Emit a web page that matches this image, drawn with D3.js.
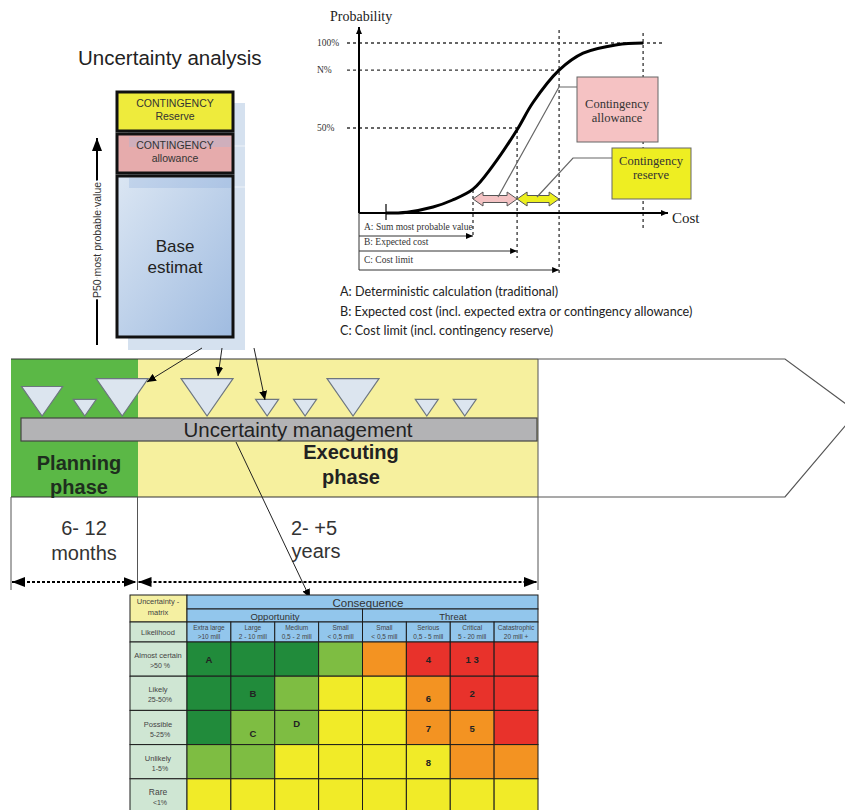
<!DOCTYPE html>
<html>
<head>
<meta charset="utf-8">
<script src="https://cdn.jsdelivr.net/npm/d3@7"></script>
<style>
body { margin: 0; background: #fff; }
svg { display: block; }
</style>
</head>
<body>
<div id="wrapper"></div>
<script>
// cumulative cost curve (cost 0-100, probability %)
const curveCost = [9, 16, 24.7, 31, 38, 44.7, 52.7, 58, 66.7, 74.7, 86, 95];
const curveProb = [0, 0.5, 3.5, 7.5, 14, 28, 49, 65, 84, 94, 99, 100];
const probTickValues = [100, 84, 50];
const probTickLabels = ["100%", "N%", "50%"];
const levelCost = [38, 52.7, 66.7];
const levelLabels = ["A: Sum most probable value", "B: Expected cost", "C: Cost limit"];
const notes = [
    "A: Deterministic calculation (traditional)",
    "B: Expected cost (incl. expected extra or contingency allowance)",
    "C: Cost limit (incl. contingency reserve)"
];

// uncertainty triangles along the project timeline (0-100 = start..end of executing)
const triPos = [5.9, 14.0, 21.1, 37.2, 48.6, 55.8, 64.9, 78.9, 86.1];
const triSize = [2, 1, 3, 3, 1, 1, 3, 1, 1];

// uncertainty matrix
const matrixRows = [["Almost certain", ">50 %"], ["Likely", "25-50%"], ["Possible", "5-25%"], ["Unlikely", "1-5%"], ["Rare", "<1%"]];
const matrixCols = [["Extra large", ">10 mill"], ["Large", "2 - 10 mill"], ["Medium", "0,5 - 2 mill"], ["Small", "< 0,5 mill"],
                    ["Small", "< 0,5 mill"], ["Serious", "0,5 - 5 mill"], ["Critical", "5 - 20 mill"], ["Catastrophic", "20 mill +"]];
const matrixLevels = [
    "GGGgORRR",
    "GGgYYORR",
    "GggYYOOR",
    "ggYYYYOO",
    "YYYYYYYY"
];
const matrixMarks = [
    {r: 0, c: 0, t: "A"}, {r: 0, c: 5, t: "4"}, {r: 0, c: 6, t: "1 3"},
    {r: 1, c: 1, t: "B"}, {r: 1, c: 5, t: "6"}, {r: 1, c: 6, t: "2"},
    {r: 2, c: 1, t: "C"}, {r: 2, c: 2, t: "D"}, {r: 2, c: 5, t: "7"}, {r: 2, c: 6, t: "5"},
    {r: 3, c: 5, t: "8"}
];
const levelColor = {G: "#218b3b", g: "#7ebd42", Y: "#f1eb28", O: "#f39322", R: "#e8322b"};

const svg = d3.select("#wrapper")
    .append("svg")
    .attr("width", 845)
    .attr("height", 810);

const defs = svg.append("defs");
function marker(id, len, half) {
    defs.append("marker")
        .attr("id", id)
        .attr("viewBox", `0 ${-half} ${len} ${half*2}`)
        .attr("refX", len).attr("refY", 0)
        .attr("markerUnits", "userSpaceOnUse")
        .attr("markerWidth", len).attr("markerHeight", half*2)
        .attr("orient", "auto-start-reverse")
        .append("path")
        .attr("d", `M0,${-half}L${len},0L0,${half}Z`)
        .attr("fill", "#000");
}
marker("head", 9, 4);
marker("small", 7, 3);
marker("big", 13, 5);

const grad = defs.append("linearGradient").attr("id", "base")
    .attr("x1", "0").attr("y1", "0").attr("x2", "1").attr("y2", "1");
grad.append("stop").attr("offset", "0").attr("stop-color", "#dbe6f3");
grad.append("stop").attr("offset", "1").attr("stop-color", "#9fbbe0");

// ---------- uncertainty analysis stack ----------
svg.append("text")
    .attr("x", 78).attr("y", 65)
    .style("font", "20.5px 'Liberation Sans', Arial")
    .style("fill", "#222")
    .text("Uncertainty analysis");

svg.append("rect").attr("x", 128).attr("y", 103).attr("width", 117).attr("height", 247).attr("fill", "#d5e1ef");
svg.append("line").attr("x1", 233).attr("x2", 245).attr("y1", 146).attr("y2", 146).attr("stroke", "#eef3f9");
svg.append("line").attr("x1", 233).attr("x2", 245).attr("y1", 187).attr("y2", 187).attr("stroke", "#eef3f9");

const stack = [
    {y: 92, h: 39, fill: "#eeeb3c", lines: ["CONTINGENCY", "Reserve"]},
    {y: 134, h: 39, fill: "#e6abac", lines: ["CONTINGENCY", "allowance"]},
    {y: 176, h: 161, fill: "url(#base)", lines: []}
];
svg.selectAll("rect.stack")
    .data(stack)
    .enter()
    .append("rect")
    .attr("class", "stack")
    .attr("x", 117).attr("y", d => d.y)
    .attr("width", 116).attr("height", d => d.h)
    .attr("fill", d => d.fill)
    .attr("stroke", "#111").attr("stroke-width", 3);
svg.append("rect").attr("x", 129).attr("y", 137).attr("width", 102).attr("height", 10).attr("fill", "#9db9e0").attr("opacity", 0.3);
svg.append("rect").attr("x", 129).attr("y", 178).attr("width", 102).attr("height", 10).attr("fill", "#7fa3d6").attr("opacity", 0.25);
stack.forEach(d => {
    d.lines.forEach((t, i) => {
        svg.append("text")
            .attr("x", 175).attr("y", d.y + 15 + i * 13)
            .attr("text-anchor", "middle")
            .style("font", "10.5px 'Liberation Sans', Arial")
            .style("fill", "#333")
            .text(t);
    });
});
["Base", "estimat"].forEach((t, i) => {
    svg.append("text")
        .attr("x", 175).attr("y", 252 + i * 21)
        .attr("text-anchor", "middle")
        .style("font", "17px 'Liberation Sans', Arial")
        .style("fill", "#222")
        .text(t);
});

svg.append("line").attr("x1", 97).attr("x2", 97).attr("y1", 345).attr("y2", 138)
    .attr("stroke", "#000").attr("stroke-width", 2).attr("marker-end", "url(#big)");
svg.append("text")
    .attr("transform", "translate(101,240) rotate(-90)")
    .attr("text-anchor", "middle")
    .style("font", "10.5px 'Liberation Sans', Arial")
    .style("fill", "#333")
    .attr("stroke", "#fff").attr("stroke-width", 4).attr("paint-order", "stroke")
    .text("P50 most probable value");

// ---------- probability chart ----------
const x = d3.scaleLinear().domain([0, 100]).range([359, 659]);
const y = d3.scaleLinear().domain([0, 100]).range([213, 43]);
const serif = "'Liberation Serif', 'Times New Roman', serif";
const dash = g => g.attr("stroke", "#333").attr("stroke-width", 1.3).attr("stroke-dasharray", "3,3");

svg.append("line").attr("x1", 347).attr("x2", x(100) + 4).attr("y1", y(100)).attr("y2", y(100)).call(dash);
svg.append("line").attr("x1", 347).attr("x2", x(levelCost[2])).attr("y1", y(84)).attr("y2", y(84)).call(dash);
svg.append("line").attr("x1", 347).attr("x2", x(levelCost[1])).attr("y1", y(50)).attr("y2", y(50)).call(dash);

svg.selectAll("text.ptick")
    .data(probTickValues)
    .enter()
    .append("text")
    .attr("class", "ptick")
    .attr("x", 317).attr("y", d => y(d) + 3)
    .style("font", "9.5px " + serif)
    .style("fill", "#333")
    .text((d, i) => probTickLabels[i]);

const vDash = [
    {c: levelCost[0], y0: 190, y1: 238},
    {c: levelCost[1], y0: 130, y1: 258},
    {c: levelCost[2], y0: 30, y1: 274},
    {c: 94.7, y0: 33, y1: 230}
];
svg.selectAll("line.vdash")
    .data(vDash)
    .enter()
    .append("line")
    .attr("class", "vdash")
    .attr("x1", d => x(d.c)).attr("x2", d => x(d.c))
    .attr("y1", d => d.y0).attr("y2", d => d.y1)
    .call(dash);

const curve = curveCost.map((c, i) => [c, curveProb[i]]);
svg.append("path")
    .datum(curve)
    .attr("d", d3.line().x(d => x(Math.min(d[0], 94.7))).y(d => y(d[1])).curve(d3.curveCatmullRom.alpha(0.5)))
    .attr("fill", "none").attr("stroke", "#000").attr("stroke-width", 3);

svg.append("line").attr("x1", x(0)).attr("x2", x(0)).attr("y1", y(0)).attr("y2", 27)
    .attr("stroke", "#000").attr("stroke-width", 2).attr("marker-end", "url(#small)");
svg.append("line").attr("x1", x(0)).attr("x2", 668).attr("y1", y(0)).attr("y2", y(0))
    .attr("stroke", "#000").attr("stroke-width", 2).attr("marker-end", "url(#small)");
svg.append("line").attr("x1", x(curveCost[0])).attr("x2", x(curveCost[0])).attr("y1", 204).attr("y2", 220)
    .attr("stroke", "#000").attr("stroke-width", 1.2);

svg.append("text").attr("x", 330).attr("y", 21).style("font", "14px " + serif).style("fill", "#222").text("Probability");
svg.append("text").attr("x", 672).attr("y", 223).style("font", "15px " + serif).style("fill", "#222").text("Cost");

// A / B / C bracket arrows
svg.append("line").attr("x1", x(0)).attr("x2", x(0)).attr("y1", y(0)).attr("y2", 270).attr("stroke", "#333");
levelCost.forEach((c, i) => {
    const yy = [236, 251, 270][i];
    svg.append("text")
        .attr("x", 364).attr("y", yy - 6 + (i == 2 ? -1 : 0))
        .style("font", "9.5px " + serif).style("fill", "#333")
        .text(levelLabels[i]);
    svg.append("line").attr("x1", x(0)).attr("x2", x(c)).attr("y1", yy).attr("y2", yy)
        .attr("stroke", "#333").attr("stroke-width", 1).attr("marker-end", "url(#small)");
});

// contingency double arrows
function doubleArrow(x0, x1, yc) {
    const h = 10;
    return `M${x0},${yc}L${x0+h},${yc-7}L${x0+h},${yc-3.5}L${x1-h},${yc-3.5}L${x1-h},${yc-7}L${x1},${yc}` +
           `L${x1-h},${yc+7}L${x1-h},${yc+3.5}L${x0+h},${yc+3.5}L${x0+h},${yc+7}Z`;
}
svg.append("path").attr("d", doubleArrow(x(levelCost[0]), x(levelCost[1]), 199)).attr("fill", "#f4c3c4").attr("stroke", "#555");
svg.append("path").attr("d", doubleArrow(x(levelCost[1]), x(levelCost[2]), 199)).attr("fill", "#ecef1e").attr("stroke", "#555");

svg.append("path").attr("d", "M577,87L559,87L498,197").attr("fill", "none").attr("stroke", "#666").attr("stroke-width", 1.2);
svg.append("path").attr("d", "M612,158L573,158L537,197").attr("fill", "none").attr("stroke", "#666").attr("stroke-width", 1.2);

svg.append("rect").attr("x", 577).attr("y", 77).attr("width", 81).attr("height", 65).attr("fill", "#f5c2c3").attr("stroke", "#666");
svg.append("rect").attr("x", 612).attr("y", 148).attr("width", 79).attr("height", 51).attr("fill", "#eeee22").attr("stroke", "#666");
[["Contingency", 617, 108], ["allowance", 617, 122], ["Contingency", 651, 165], ["reserve", 651, 179]].forEach(d => {
    svg.append("text").attr("x", d[1]).attr("y", d[2]).attr("text-anchor", "middle")
        .style("font", "12.5px " + serif).style("fill", "#333").text(d[0]);
});

svg.selectAll("text.note")
    .data(notes)
    .enter()
    .append("text")
    .attr("class", "note")
    .attr("x", 340).attr("y", (d, i) => 296 + i * 19.5)
    .style("font", "12.6px Lato, 'Open Sans', sans-serif")
    .style("fill", "#222")
    .text(d => d);

// ---------- project phases band ----------
const t = d3.scaleLinear().domain([0, 100]).range([11, 538]);
const triW = d3.scaleLinear().domain([1, 2, 3]).range([23, 41, 52]);

svg.append("path").attr("d", "M538,359L785,359L857,412L785,497L538,497")
    .attr("fill", "#fff").attr("stroke", "#555").attr("stroke-width", 1.2);
svg.append("rect").attr("x", t(0)).attr("y", 359).attr("width", 127).attr("height", 138).attr("fill", "#5bb846");
svg.append("rect").attr("x", 138).attr("y", 359).attr("width", t(100) - 138).attr("height", 138).attr("fill", "#f6f09e");
svg.append("line").attr("x1", t(0)).attr("x2", 538).attr("y1", 359).attr("y2", 359).attr("stroke", "#333");
svg.append("line").attr("x1", t(0)).attr("x2", 538).attr("y1", 497).attr("y2", 497).attr("stroke", "#333");
svg.append("line").attr("x1", 538).attr("x2", 538).attr("y1", 359).attr("y2", 497).attr("stroke", "#555");

svg.selectAll("path.tri")
    .data(triPos)
    .enter()
    .append("path")
    .attr("class", "tri")
    .attr("d", (d, i) => {
        const w = triW(triSize[i]), h = w * 0.72, cx = t(d), tip = 416;
        return `M${cx - w/2},${tip - h}L${cx + w/2},${tip - h}L${cx},${tip}Z`;
    })
    .attr("fill", "#dce5ef").attr("stroke", "#6d7680").attr("stroke-width", 1.2);

svg.append("rect").attr("x", 21).attr("y", 418).attr("width", 516).attr("height", 23)
    .attr("fill", "#b3b3b5").attr("stroke", "#444").attr("stroke-width", 1.2);
svg.append("text").attr("x", 298).attr("y", 437).attr("text-anchor", "middle")
    .style("font", "20.5px 'Liberation Sans', Arial").style("fill", "#222")
    .text("Uncertainty management");

[["Planning", 79, 470], ["phase", 79, 494]].forEach(d => {
    svg.append("text").attr("x", d[1]).attr("y", d[2]).attr("text-anchor", "middle")
        .style("font", "bold 20px 'Liberation Sans', Arial").style("fill", "#1e2e1e").text(d[0]);
});
[["Executing", 351, 459], ["phase", 351, 484]].forEach(d => {
    svg.append("text").attr("x", d[1]).attr("y", d[2]).attr("text-anchor", "middle")
        .style("font", "bold 20px 'Liberation Sans', Arial").style("fill", "#222").text(d[0]);
});

// durations
[t(0), 137.5, t(100)].forEach(xx => {
    svg.append("line").attr("x1", xx).attr("x2", xx).attr("y1", 497).attr("y2", 590).attr("stroke", "#555");
});
[[t(0) + 1, 136.5], [138.5, t(100) - 1]].forEach(d => {
    svg.append("line").attr("x1", d[0]).attr("x2", d[1]).attr("y1", 582).attr("y2", 582)
        .attr("stroke", "#000").attr("stroke-width", 2).attr("stroke-dasharray", "3,2")
        .attr("marker-start", "url(#big)").attr("marker-end", "url(#big)");
});
[["6- 12", 84, 535], ["months", 84, 560], ["2- +5", 314, 535], ["years", 316, 558]].forEach(d => {
    svg.append("text").attr("x", d[1]).attr("y", d[2]).attr("text-anchor", "middle")
        .style("font", "20px 'Liberation Sans', Arial").style("fill", "#333").text(d[0]);
});

// connecting arrows
[[202, 348, 147, 382], [222, 348, 218, 376], [254, 348, 265, 400], [236, 442, 310, 598]].forEach(d => {
    svg.append("line").attr("x1", d[0]).attr("y1", d[1]).attr("x2", d[2]).attr("y2", d[3])
        .attr("stroke", "#222").attr("stroke-width", 1).attr("marker-end", "url(#head)");
});

// ---------- uncertainty matrix ----------
const col = d3.scaleBand().domain(d3.range(matrixCols.length)).range([187, 538]);
const row = d3.scaleBand().domain(d3.range(matrixRows.length)).range([642, 813]);
const sans = "'Liberation Sans', Arial, sans-serif";
const grid = "#1c1c1c";

const mx = svg.append("g");
mx.append("rect").attr("x", 130).attr("y", 595).attr("width", 57).attr("height", 27).attr("fill", "#f5f0a2").attr("stroke", grid);
mx.append("rect").attr("x", 130).attr("y", 622).attr("width", 57).attr("height", 20).attr("fill", "#cfe6d3").attr("stroke", grid);
mx.append("rect").attr("x", 187).attr("y", 595).attr("width", 351).attr("height", 14).attr("fill", "#92c6ec").attr("stroke", grid);
mx.append("rect").attr("x", 187).attr("y", 609).attr("width", col(4) - 187).attr("height", 13).attr("fill", "#92c6ec").attr("stroke", grid);
mx.append("rect").attr("x", col(4)).attr("y", 609).attr("width", 538 - col(4)).attr("height", 13).attr("fill", "#92c6ec").attr("stroke", grid);

mx.append("text").attr("x", 368).attr("y", 607).attr("text-anchor", "middle").style("font", "11.5px " + sans).style("fill", "#333").text("Consequence");
mx.append("text").attr("x", 275).attr("y", 620).attr("text-anchor", "middle").style("font", "9.5px " + sans).style("fill", "#333").text("Opportunity");
mx.append("text").attr("x", 453).attr("y", 620).attr("text-anchor", "middle").style("font", "9.5px " + sans).style("fill", "#333").text("Threat");
[["Uncertainty -", 604], ["matrix", 615]].forEach(d => {
    mx.append("text").attr("x", 158).attr("y", d[1]).attr("text-anchor", "middle").style("font", "7.5px " + sans).style("fill", "#444").text(d[0]);
});
mx.append("text").attr("x", 158).attr("y", 635).attr("text-anchor", "middle").style("font", "7.5px " + sans).style("fill", "#444").text("Likelihood");

const heads = mx.selectAll("g.colhead")
    .data(matrixCols)
    .enter()
    .append("g")
    .attr("class", "colhead");
heads.append("rect")
    .attr("x", (d, i) => col(i)).attr("y", 622)
    .attr("width", col.bandwidth()).attr("height", 20)
    .attr("fill", "#92c6ec").attr("stroke", grid);
heads.append("text")
    .attr("x", (d, i) => col(i) + col.bandwidth() / 2).attr("y", 630)
    .attr("text-anchor", "middle").style("font", "6.5px " + sans).style("fill", "#444")
    .text(d => d[0]);
heads.append("text")
    .attr("x", (d, i) => col(i) + col.bandwidth() / 2).attr("y", 639)
    .attr("text-anchor", "middle").style("font", "6.5px " + sans).style("fill", "#444")
    .text(d => d[1]);

const rowHeads = mx.selectAll("g.rowhead")
    .data(matrixRows)
    .enter()
    .append("g")
    .attr("class", "rowhead");
rowHeads.append("rect")
    .attr("x", 130).attr("y", (d, i) => row(i))
    .attr("width", 57).attr("height", row.bandwidth())
    .attr("fill", "#cfe6d3").attr("stroke", grid);
rowHeads.append("text")
    .attr("x", 158).attr("y", (d, i) => row(i) + row.bandwidth() / 2 - 1)
    .attr("text-anchor", "middle").style("font", (d, i) => (i == 4 ? "8.5px " : "7.5px ") + sans).style("fill", "#444")
    .text(d => d[0]);
rowHeads.append("text")
    .attr("x", 160).attr("y", (d, i) => row(i) + row.bandwidth() / 2 + 9)
    .attr("text-anchor", "middle").style("font", "7px " + sans).style("fill", "#444")
    .text(d => d[1]);

const cells = [];
matrixLevels.forEach((s, r) => s.split("").forEach((lv, c) => cells.push({r, c, lv})));
mx.selectAll("rect.cell")
    .data(cells)
    .enter()
    .append("rect")
    .attr("class", "cell")
    .attr("x", d => col(d.c)).attr("y", d => row(d.r))
    .attr("width", col.bandwidth()).attr("height", row.bandwidth())
    .attr("fill", d => levelColor[d.lv])
    .attr("stroke", grid).attr("stroke-width", 1);

mx.selectAll("text.mark")
    .data(matrixMarks)
    .enter()
    .append("text")
    .attr("class", "mark")
    .attr("x", d => col(d.c) + col.bandwidth() / 2)
    .attr("y", d => row(d.r) + row.bandwidth() / 2 + 4 + (d.t == "C" || d.t == "6" ? 5 : 0) + (d.t == "D" ? -5 : 0))
    .attr("text-anchor", "middle")
    .style("font", "bold 9.5px " + sans).style("fill", "#222")
    .text(d => d.t);
</script>
</body>
</html>
